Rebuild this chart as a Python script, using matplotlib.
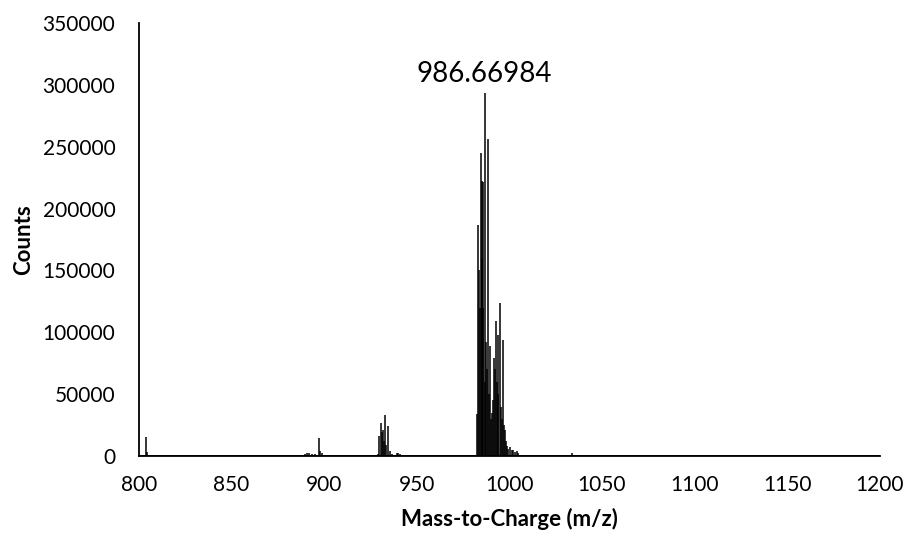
import matplotlib.pyplot as plt

# peak list (m/z, counts)
mz = [803.6, 804.2, 805.0, 820.5, 837.2, 838.6, 840.0, 860.0, 875.0,
      889.6, 890.8, 892.0, 893.5, 895.0, 897.3, 897.9, 898.6,
      929.0, 929.6, 930.5, 931.0, 931.5, 932.2, 932.8, 933.4, 934.6, 935.5, 936.5,
      938.5, 939.3, 940.0, 941.0,
      982.6, 983.3, 983.7, 984.0, 984.6, 985.0, 985.3, 985.7, 986.0, 986.67,
      987.1, 987.5, 988.0, 988.5, 989.0, 989.5, 990.0, 990.4, 990.9, 991.6,
      992.1, 992.7, 993.2, 993.6, 994.1, 994.9, 995.4, 996.0, 996.7, 997.2,
      997.6, 998.2, 998.7, 999.5, 1000.3, 1001.2, 1002.0, 1003.0, 1004.0, 1004.6,
      1033.6]
counts = [15100, 3000, 1200, 500, 800, 900, 700, 400, 400,
          1800, 2200, 2500, 2000, 1500, 14800, 4000, 2500,
          2000, 16200, 26400, 19000, 21000, 12000, 33100, 9000, 24200, 4000, 1500,
          1200, 2200, 2500, 1800,
          34000, 186700, 150000, 120000, 245000, 160000, 222000, 221700, 120000, 293000,
          60000, 92400, 70000, 256000, 50000, 88900, 30000, 35000, 45000, 79200,
          70000, 109400, 60000, 97800, 50000, 123700, 40000, 30000, 93700, 25000,
          21000, 12000, 8000, 6000, 7000, 5000, 4500, 3000, 4000, 2500,
          2200]

fig = plt.figure(figsize=(9.08, 5.38), dpi=100)
ax = fig.add_axes([0.153, 0.1524, 0.816, 0.805])

ax.vlines(mz, 0, counts, color='black', linewidth=1.1)
ax.axhline(0, color='black', linewidth=1.3)

ax.set_xlim(800, 1200)
ax.set_ylim(0, 350000)
ax.set_xticks(range(800, 1201, 50))
ax.set_yticks(range(0, 350001, 50000))

font = 'Lato'
for lab in ax.get_xticklabels() + ax.get_yticklabels():
    lab.set_fontfamily(font)
    lab.set_fontsize(15)
ax.tick_params(axis='both', length=0)
ax.tick_params(axis='y', pad=17)
ax.tick_params(axis='x', pad=14)

for s in ['top', 'right']:
    ax.spines[s].set_visible(False)
ax.spines['left'].set_linewidth(1.3)
ax.spines['bottom'].set_linewidth(1.3)

ax.set_xlabel('Mass-to-Charge (m/z)', fontfamily=font, fontsize=16, fontweight='bold', labelpad=9)
ax.set_ylabel('Counts', fontfamily=font, fontsize=16, fontweight='bold', labelpad=6)

ax.annotate('986.66984', xy=(986.67, 293000), xytext=(0, 5), textcoords='offset points',
            ha='center', va='bottom', fontfamily=font, fontsize=20)

fig.savefig('out.png', dpi=100)
